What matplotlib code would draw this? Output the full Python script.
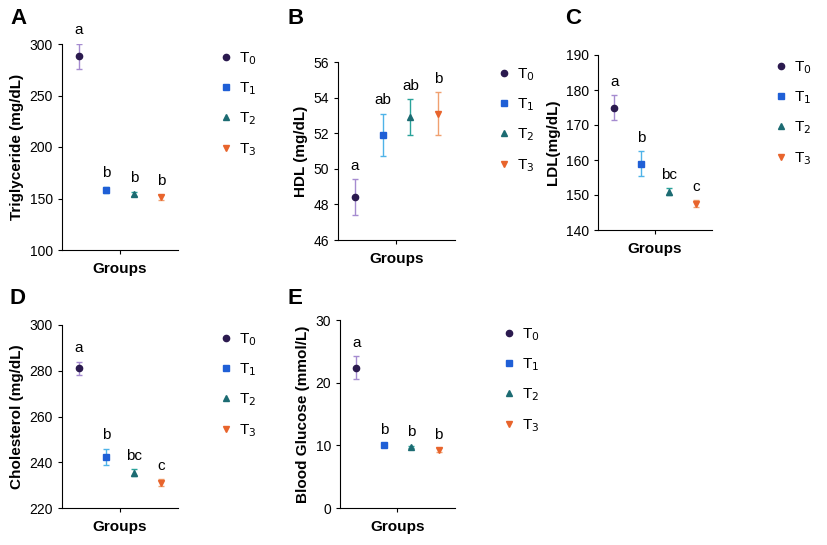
import matplotlib
matplotlib.use("Agg")
import matplotlib.pyplot as plt

plt.rcParams['font.family'] = ['Arial', 'Liberation Sans', 'DejaVu Sans']

groups = ["T$_0$", "T$_1$", "T$_2$", "T$_3$"]
markers = ["o", "s", "^", "v"]
colors = ["#2b1a4f", "#1f5fd6", "#1c6b72", "#e8642c"]
ecolors = ["#a58bd0", "#4fb3e8", "#2aa39a", "#f0a070"]

tg_mean = [288, 158, 154, 151]; tg_err = [12, 3, 2, 2]; tg_let = ["a", "b", "b", "b"]
hdl_mean = [48.4, 51.9, 52.9, 53.1]; hdl_err = [1.0, 1.2, 1.0, 1.2]; hdl_let = ["a", "ab", "ab", "b"]
ldl_mean = [175, 159, 151, 147.5]; ldl_err = [3.5, 3.5, 1.0, 1.0]; ldl_let = ["a", "b", "bc", "c"]
chol_mean = [281, 242.5, 235.5, 231]; chol_err = [3, 3.5, 1.5, 1.5]; chol_let = ["a", "b", "bc", "c"]
glu_mean = [22.4, 10.0, 9.7, 9.2]; glu_err = [1.8, 0.3, 0.2, 0.3]; glu_let = ["a", "b", "b", "b"]

W, H = 828, 545
fig = plt.figure(figsize=(W/100, H/100), dpi=100)

def ax_px(x0, y0, x1, y1):
    return fig.add_axes([x0/W, 1-y1/H, (x1-x0)/W, (y1-y0)/H])

panels = [
    ("A", (62, 44, 178, 250), tg_mean, tg_err, tg_let, "Triglyceride (mg/dL)", (100, 300), [100,150,200,250,300], (205, 47)),
    ("B", (338, 62, 455, 240), hdl_mean, hdl_err, hdl_let, "HDL (mg/dL)", (46, 56), [46,48,50,52,54,56], (483, 63)),
    ("C", (598, 55, 712, 230), ldl_mean, ldl_err, ldl_let, "LDL(mg/dL)", (140, 190), [140,150,160,170,180,190], (760, 56)),
    ("D", (62, 325, 178, 508), chol_mean, chol_err, chol_let, "Cholesterol (mg/dL)", (220, 300), [220,240,260,280,300], (205, 328)),
    ("E", (340, 320, 455, 508), glu_mean, glu_err, glu_let, "Blood Glucose (mmol/L)", (0, 30), [0,10,20,30], (488, 323)),
]
letter_pos = {"A": (10, 18), "B": (288, 18), "C": (565, 18), "D": (10, 298), "E": (288, 298)}

for name, box, m, e, lets, ylabel, ylim, yt, legxy in panels:
    ax = ax_px(*box)
    rng = ylim[1] - ylim[0]
    handles = []
    for i in range(4):
        ax.errorbar(i+1, m[i], yerr=e[i], fmt="none", ecolor=ecolors[i], elinewidth=1, capsize=2.5, capthick=1)
        h, = ax.plot(i+1, m[i], marker=markers[i], color=colors[i], ms=4.5, ls="none", label=groups[i])
        handles.append(h)
        ax.text(i+1, m[i]+e[i]+rng*0.035, lets[i], ha="center", va="bottom", fontsize=11)
    ax.set_xlim(0.4, 4.6)
    ax.set_ylim(*ylim)
    ax.set_yticks(yt)
    ax.set_xticks([2.5]); ax.set_xticklabels([""])
    ax.set_xlabel("Groups", fontsize=11, fontweight="bold", labelpad=2)
    ax.set_ylabel(ylabel, fontsize=11, fontweight="bold")
    ax.spines["top"].set_visible(False); ax.spines["right"].set_visible(False)
    ax.tick_params(labelsize=10, length=3)
    lx, ly = legxy
    fig.legend(handles=handles, loc="upper left", bbox_to_anchor=(lx/W, 1-ly/H + 0.02),
               frameon=False, fontsize=11, handletextpad=0.3, labelspacing=0.9, handlelength=1.0)
    px, py = letter_pos[name]
    fig.text(px/W, 1-py/H, name, fontsize=16, fontweight="bold", va="center")

fig.savefig("out.png", dpi=100)
